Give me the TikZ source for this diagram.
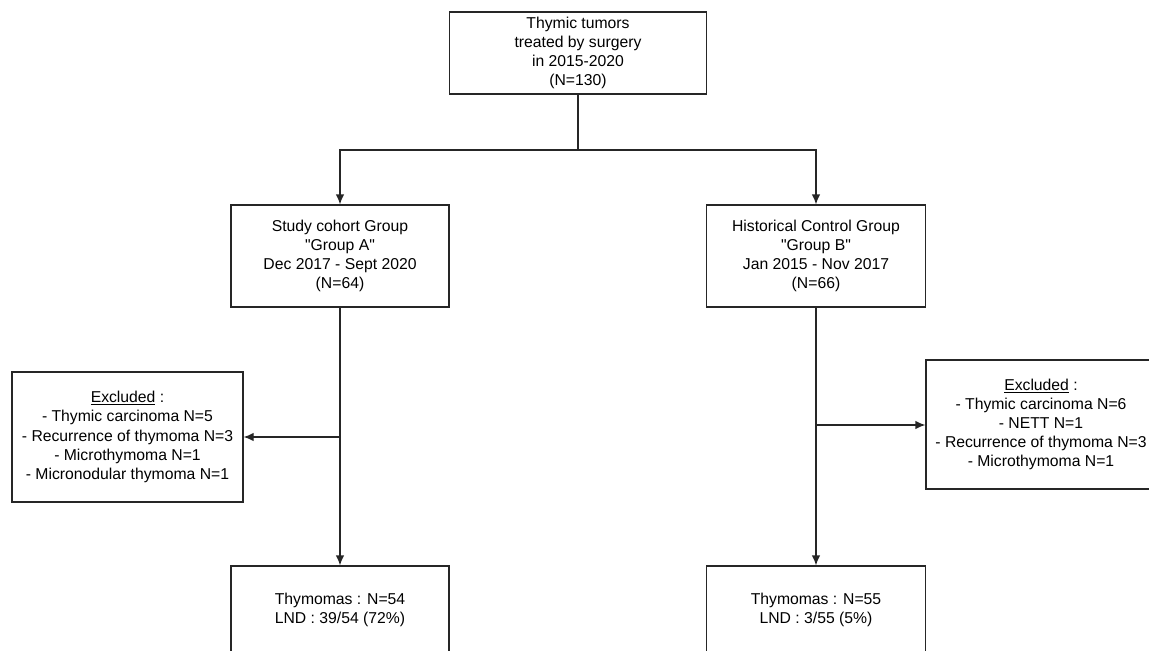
\documentclass[tikz,border=0pt]{standalone}
\usepackage{fontspec}
\setmainfont{Liberation Sans}[Ligatures=TeXOff]
\usetikzlibrary{arrows.meta}
\begin{document}
\begin{tikzpicture}[x=0.75pt,y=-0.75pt,
 box/.style={draw=black!85, line width=1pt, fill=white, align=center,
   font=\fontsize{11.8}{14.4}\selectfont, inner sep=0pt},
 conn/.style={draw=black!85, line width=1pt},
 arr/.style={conn,-{Latex[length=7.5pt,width=6.5pt]}}]
\useasboundingbox (0,0) rectangle (1149,650);
\clip (0,0) rectangle (1149,650);
\node[box, minimum width=192.75pt, minimum height=61.5pt] (top) at (578,53)
  {Thymic tumors\\treated by surgery\\in 2015-2020\\(N=130)};
\node[box, minimum width=163.5pt, minimum height=76.5pt] (midA) at (340,256)
  {Study cohort Group\\"Group A"\\Dec 2017 - Sept 2020\\(N=64)};
\node[box, minimum width=164.25pt, minimum height=76.5pt] (midB) at (816,256)
  {Historical Control Group\\"Group B"\\Jan 2015 - Nov 2017\\(N=66)};
\node[box, minimum width=173.25pt, minimum height=97.5pt] (exA) at (127.5,437)
  {\underline{Excluded} :\\- Thymic carcinoma N=5\\- Recurrence of thymoma N=3\\- Microthymoma N=1\\- Micronodular thymoma N=1};
\node[box, minimum width=172.5pt, minimum height=96.75pt] (exB) at (1041,424.5)
  {\underline{Excluded} :\\- Thymic carcinoma N=6\\- NETT N=1\\- Recurrence of thymoma N=3\\- Microthymoma N=1};
\node[box, minimum width=163.5pt, minimum height=66pt] (botA) at (340,610)
  {Thymomas : N=54\\LND : 39/54 (72\%)};
\node[box, minimum width=164.25pt, minimum height=66pt] (botB) at (816,610)
  {Thymomas : N=55\\LND : 3/55 (5\%)};
\coordinate (split) at (578,150);
\coordinate (brA) at (340,437);
\coordinate (brB) at (816,425);
\draw[conn] (top.south) -- (split);
\draw[arr] (split) -| (midA.north);
\draw[arr] (split) -| (midB.north);
\draw[arr] (midA.south) -- (botA.north);
\draw[arr] (midB.south) -- (botB.north);
\draw[arr] (brA) -- (exA.east);
\draw[arr] (brB) -- (brB -| exB.west);
\end{tikzpicture}
\end{document}
